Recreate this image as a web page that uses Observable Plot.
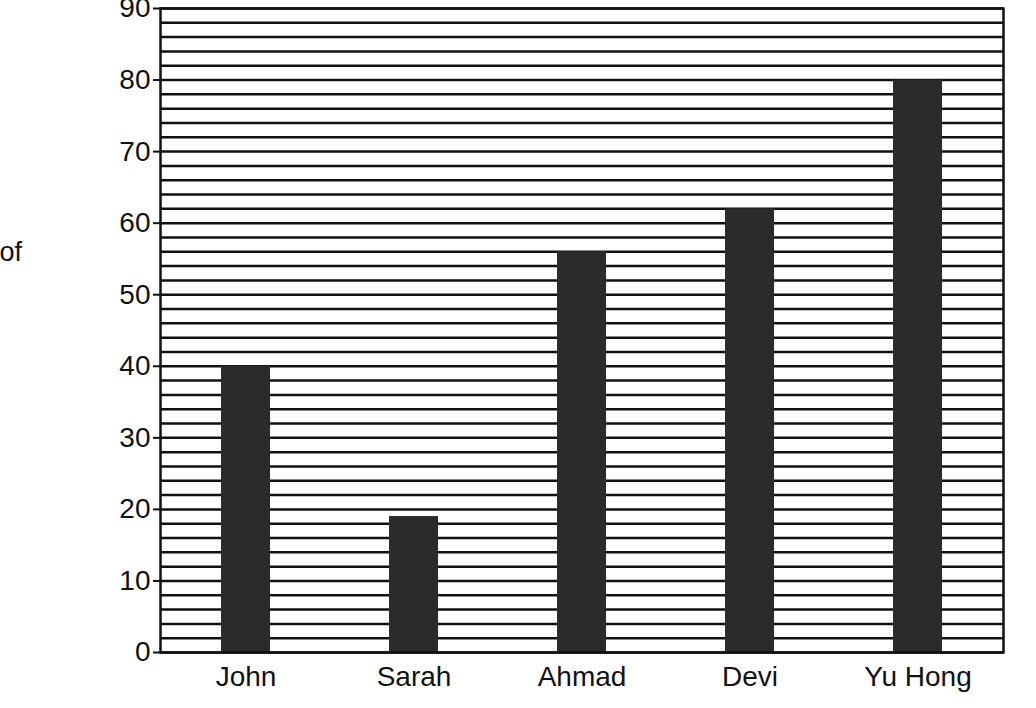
<!DOCTYPE html>
<html>
<head>
<meta charset="utf-8">
<script src="https://cdn.jsdelivr.net/npm/d3@7"></script>
<script src="https://cdn.jsdelivr.net/npm/@observablehq/plot@0.6"></script>
<style>
  body { margin: 0; background: #fff; }
  #chart { width: 1036px; height: 708px; }
</style>
</head>
<body>
<div id="chart"></div>
<script>
// Datos
const nombres = ["John", "Sarah", "Ahmad", "Devi", "Yu Hong"];
const valores = [40, 19, 56, 62, 80];
const ticksY = [0, 10, 20, 30, 40, 50, 60, 70, 80, 90];
const lineasGrid = d3.range(0, 91, 2); // una línea cada 2 unidades

const datos = nombres.map((n, i) => ({nombre: n, valor: valores[i]}));

const chart = Plot.plot({
  width: 1036,
  height: 708,
  marginLeft: 160,
  marginRight: 33,
  marginTop: 8,
  marginBottom: 56,
  style: {fontFamily: "'Liberation Sans', Arial, sans-serif", fontSize: "28px", color: "#111", background: "#fff"},
  x: {domain: nombres, paddingInner: 0.71, paddingOuter: 0.355, label: null},
  y: {domain: [0, 90], label: null},
  marks: [
    Plot.gridY(lineasGrid, {stroke: "#111", strokeOpacity: 1, strokeWidth: 2.5}),
    Plot.barY(datos, {x: "nombre", y: "valor", fill: "#2b2b2b"}),
    Plot.frame({stroke: "#111", strokeWidth: 2.5}),
    Plot.axisY({ticks: ticksY, tickSize: 7, tickPadding: 3, tickFormat: d => d, stroke: "#111", strokeWidth: 2}),
    Plot.axisX({tickSize: 0, tickPadding: 14})
  ]
});

// Etiqueta del eje Y (cortada a la izquierda, como en el original)
d3.select(chart).append("text")
  .attr("x", 22)
  .attr("y", 261)
  .attr("text-anchor", "end")
  .attr("font-size", 27)
  .attr("fill", "#111")
  .text("Number of");

d3.select('#chart').append(() => chart);
</script>
</body>
</html>
